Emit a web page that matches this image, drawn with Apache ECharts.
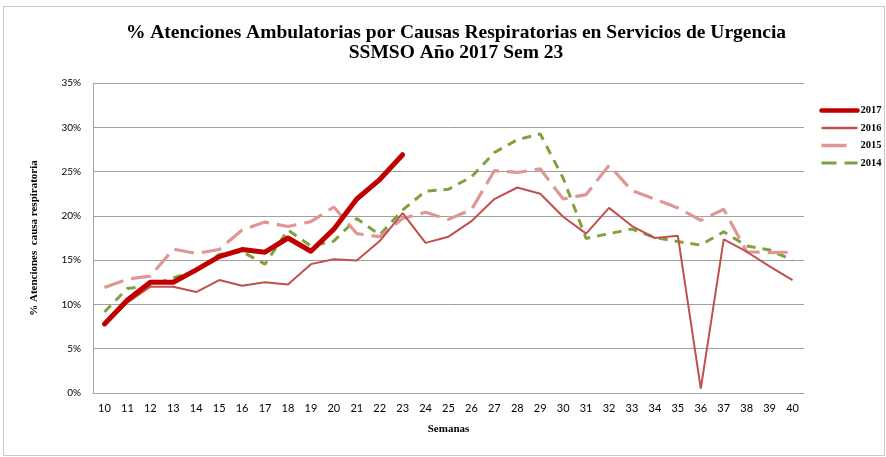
<!DOCTYPE html>
<html><head><meta charset="utf-8">
<script src="https://cdn.jsdelivr.net/npm/echarts@6/dist/echarts.min.js"></script>
<style>html,body{margin:0;padding:0;background:#fff}#c{width:886px;height:457px}
#frame{position:absolute;left:3px;top:6px;width:880px;height:448px;border:1px solid #c8c8c8;pointer-events:none}</style>
</head><body><div id="c"></div><div id="frame"></div>
<script>
const semanas = ['10','11','12','13','14','15','16','17','18','19','20','21','22','23','24','25','26','27','28','29','30','31','32','33','34','35','36','37','38','39','40'];
const y2017 = [7.8,10.5,12.5,12.5,13.9,15.4,16.2,15.9,17.5,16.0,18.5,21.9,24.1,26.9];
const y2016 = [7.6,10.2,12.0,12.0,11.4,12.75,12.1,12.5,12.25,14.55,15.1,14.95,17.15,20.3,16.95,17.65,19.4,21.9,23.2,22.5,19.9,18.0,20.9,18.85,17.5,17.75,0.5,17.35,15.95,14.3,12.75];
const y2015 = [11.9,12.85,13.2,16.25,15.75,16.2,18.4,19.3,18.8,19.35,21.0,18.0,17.65,19.7,20.4,19.6,20.7,25.1,24.9,25.3,21.9,22.4,25.7,22.85,21.9,20.9,19.5,20.75,15.95,15.85,15.9];
const y2014 = [9.15,11.8,12.1,13.0,13.8,15.65,15.95,14.55,18.4,16.6,17.15,19.7,17.85,20.65,22.8,23.0,24.4,27.15,28.6,29.25,24.25,17.45,18.0,18.5,17.55,17.1,16.7,18.2,16.6,16.15,15.0];
const yTicks = [0,5,10,15,20,25,30,35];
const seriesNames = ['2017','2016','2015','2014'];

const serif = '"Liberation Serif", "DejaVu Serif", serif';
const sans = 'Lato, "Open Sans", sans-serif';
const styles = {
  '2017':{color:'#C00000',width:5,type:'solid',cap:'round',join:'round'},
  '2016':{color:'#C0504D',width:2,type:'solid'},
  '2015':{color:'#DE9795',width:3.2,type:[20,8]},
  '2014':{color:'#7FA23F',width:3,type:[9,7]}
};
const legendStyles = {
  '2017':{stroke:'#C00000',lineWidth:4.5,lineCap:'round'},
  '2016':{stroke:'#C0504D',lineWidth:2.5},
  '2015':{stroke:'#DE9795',lineWidth:3.5,lineDash:[25,20]},
  '2014':{stroke:'#7FA23F',lineWidth:3.2,lineDash:[15,8]}
};
const legendChildren = [];
seriesNames.forEach((n,i)=>{
  legendChildren.push({type:'line',shape:{x1:0,y1:i*17.5,x2:36,y2:i*17.5},style:legendStyles[n]});
  legendChildren.push({type:'text',x:39,y:i*17.5,style:{text:n,fill:'#000',font:'bold 10.5px '+serif,textVerticalAlign:'middle'}});
});

const data = {'2017':y2017,'2016':y2016,'2015':y2015,'2014':y2014};
const chart = echarts.init(document.getElementById('c'));
chart.setOption({
  animation:false,
  title:{
    text:'% Atenciones Ambulatorias por Causas Respiratorias en Servicios de Urgencia\nSSMSO Año 2017 Sem 23',
    left:451, top:18, textAlign:'center',
    textStyle:{fontFamily:serif,fontWeight:'bold',fontSize:19.5,lineHeight:20,color:'#000'}
  },
  legend:{show:false},
  graphic:[{type:'group',left:819,top:105,children:legendChildren}],
  grid:{left:93,right:82,top:83,bottom:64,containLabel:false},
  xAxis:{
    type:'category', data:semanas, boundaryGap:true,
    name:'Semanas', nameLocation:'middle', nameGap:31,
    nameTextStyle:{fontFamily:serif,fontWeight:'bold',fontSize:11,color:'#000'},
    axisLine:{lineStyle:{color:'#a6a6a6',width:1}},
    axisTick:{show:false},
    axisLabel:{fontFamily:sans,fontSize:11,color:'#000',margin:10}
  },
  yAxis:{
    type:'value', min:yTicks[0], max:yTicks[yTicks.length-1], interval:5,
    name:'% Atenciones  causa respiratoria', nameLocation:'middle', nameGap:53, nameRotate:90,
    nameTextStyle:{fontFamily:serif,fontWeight:'bold',fontSize:11,color:'#000'},
    axisLine:{show:true,lineStyle:{color:'#a6a6a6',width:1}},
    axisTick:{show:false},
    splitLine:{lineStyle:{color:'#a0a0a0',width:1}},
    axisLabel:{fontFamily:sans,fontSize:10,color:'#000',formatter:v=>v+'%',margin:12}
  },
  series:['2014','2015','2016','2017'].map((n,i)=>({
    name:n,type:'line',data:data[n],symbol:'none',z:2+i,
    lineStyle:styles[n],itemStyle:{color:styles[n].color}
  }))
});
</script></body></html>
